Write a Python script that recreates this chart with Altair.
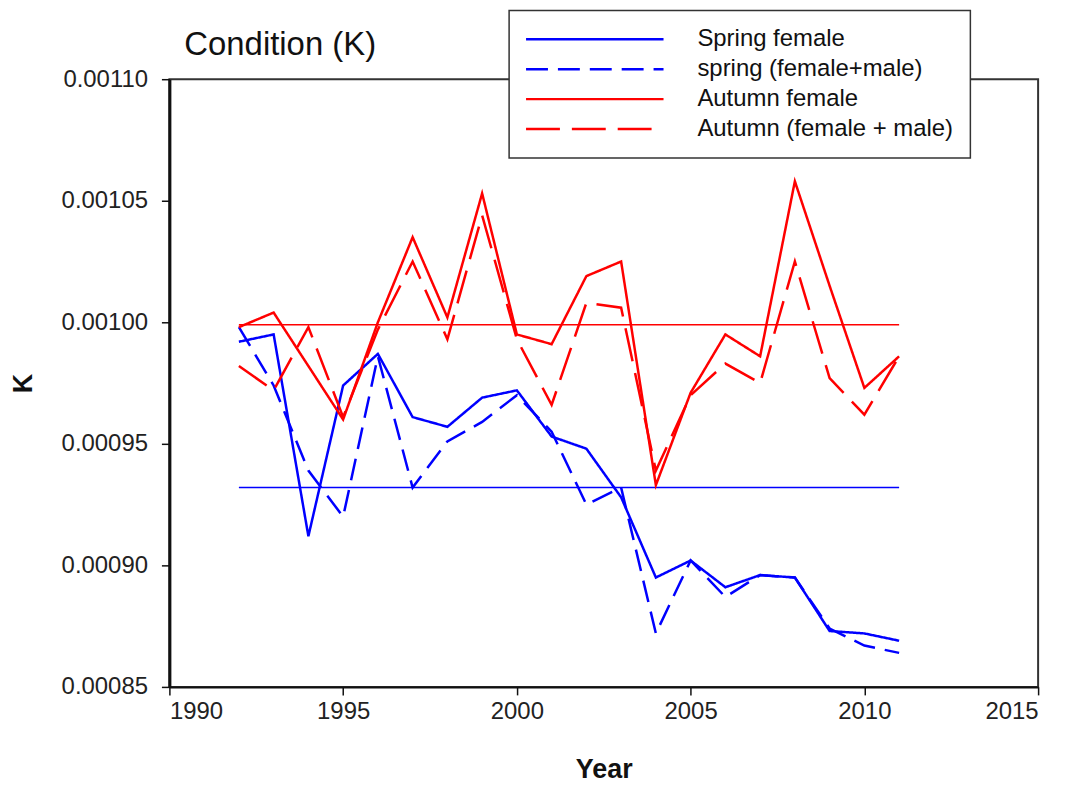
import altair as alt
import pandas as pd

years = list(range(1992, 2012))

spring_female = [0.000992, 0.000995, 0.000912, 0.000974, 0.000987, 0.000961, 0.000957, 0.000969, 0.000972, 0.000953,
                 0.000948, 0.000928, 0.000895, 0.000902, 0.000891, 0.000896, 0.000895, 0.000873, 0.000872, 0.000869]
spring_both = [0.000998, 0.000974, 0.000939, 0.000920, 0.000986, 0.000932, 0.000951, 0.000959, 0.000970, 0.000955,
               0.000925, 0.000932, 0.000872, 0.000902, 0.000887, 0.000896, 0.000895, 0.000874, 0.000867, 0.000864]
autumn_female = [0.000998, 0.001004, 0.000982, 0.000960, 0.001000, 0.001035, 0.001002, 0.001053, 0.000995, 0.000991,
                 0.001019, 0.001025, 0.000933, 0.000971, 0.000995, 0.000986, 0.001058, 0.001015, 0.000973, 0.000986]
autumn_both = [0.000982, 0.000972, 0.000998, 0.000961, 0.000997, 0.001025, 0.000993, 0.001044, 0.000993, 0.000966,
               0.001008, 0.001006, 0.000939, 0.000970, 0.000983, 0.000975, 0.001025, 0.000977, 0.000962, 0.000986]

spring_mean = 0.000932
autumn_mean = 0.000999

series_names = ["Spring female", "spring (female+male)", "Autumn female", "Autumn (female + male)"]
series_colors = ["#0000ff", "#0000ff", "#ff0000", "#ff0000"]
series_dashes = [[1, 0], [22, 10], [1, 0], [34, 12]]

x_ticks = [1990, 1995, 2000, 2005, 2010, 2015]
y_ticks = [0.00085, 0.00090, 0.00095, 0.00100, 0.00105, 0.00110]

chart_title = "Condition (K)"

rows = []
for name, vals in zip(series_names, [spring_female, spring_both, autumn_female, autumn_both]):
    for yr, v in zip(years, vals):
        rows.append({"Year": yr, "K": v, "series": name})
df = pd.DataFrame(rows)

means = pd.DataFrame({
    "Year": [years[0], years[0]],
    "YearEnd": [years[-1], years[-1]],
    "K": [spring_mean, autumn_mean],
    "which": ["spring", "autumn"],
})

FONT = "Liberation Sans"
FS = 24

x_scale = alt.Scale(domain=[1990, 2015], nice=False, zero=False)
y_scale = alt.Scale(domain=[0.00085, 0.0011], nice=False, zero=False)
x_axis = alt.Axis(values=x_ticks, format="d", title="Year", grid=False, titleY=70, titleBaseline="top")
y_axis = alt.Axis(values=y_ticks, format=".5f", title="K", grid=False, titleX=-132, titleY=305, domainWidth=3)

legend = alt.Legend(orient="none", legendX=341, legendY=-69, title=None,
                    symbolType="M-6.9,0H6.9", symbolSize=400, symbolOffset=57,
                    symbolStrokeWidth=2.5, labelFontSize=FS, labelFont=FONT, labelLimit=500,
                    labelColor="#111", labelOffset=91, rowPadding=6, padding=17,
                    strokeColor="#333", fillColor="white")

lines = alt.Chart(df).mark_line(strokeWidth=2.5).encode(
    x=alt.X("Year:Q", scale=x_scale, axis=x_axis),
    y=alt.Y("K:Q", scale=y_scale, axis=y_axis),
    color=alt.Color("series:N", sort=series_names,
                    scale=alt.Scale(domain=series_names, range=series_colors), legend=legend),
    strokeDash=alt.StrokeDash("series:N", sort=series_names,
                              scale=alt.Scale(domain=series_names, range=series_dashes), legend=legend),
    order="Year:Q",
)

spring_rule = alt.Chart(means[means["which"] == "spring"]).mark_rule(strokeWidth=1.5, color="#0000ff").encode(
    x=alt.X("Year:Q", scale=x_scale, axis=x_axis),
    x2="YearEnd:Q",
    y=alt.Y("K:Q", scale=y_scale, axis=y_axis),
)
autumn_rule = alt.Chart(means[means["which"] == "autumn"]).mark_rule(strokeWidth=1.5, color="#ff0000").encode(
    x=alt.X("Year:Q", scale=x_scale, axis=x_axis),
    x2="YearEnd:Q",
    y=alt.Y("K:Q", scale=y_scale, axis=y_axis),
)

title_text = alt.Chart(pd.DataFrame({"t": [chart_title]})).mark_text(
    align="left", baseline="alphabetic", fontSize=33, font=FONT, color="#111"
).encode(x=alt.value(15), y=alt.value(-24), text="t:N")

chart = alt.layer(spring_rule, autumn_rule, lines, title_text).properties(
    width=872,
    height=610,
    autosize=alt.AutoSizeParams(type="none"),
    padding={"left": 162, "top": 70, "right": 30, "bottom": 100},
).configure_view(
    stroke="#333", strokeWidth=2
).configure_axis(
    labelFont=FONT, labelFontSize=FS, labelColor="#222",
    titleFont=FONT, titleFontSize=27, titleFontWeight="bold", titleColor="#111",
    domainColor="#111", domainWidth=2, tickColor="#111", tickSize=8, tickWidth=1.5,
    labelPadding=5,
).configure_axisY(labelPadding=14).configure_legend(strokeWidth=1.5)

chart.save("out.html", embed_options={"renderer": "svg", "actions": False})
